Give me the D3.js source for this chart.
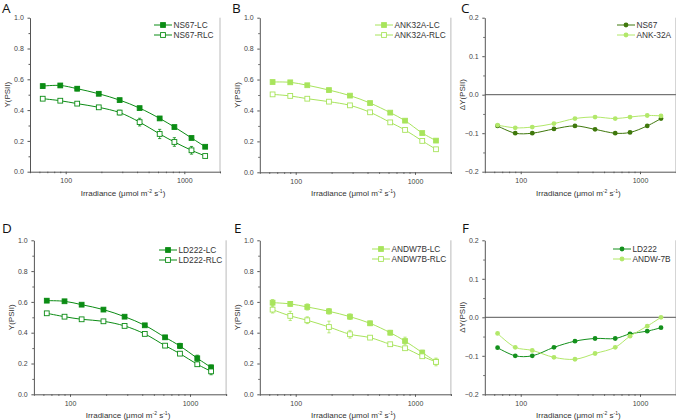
<!DOCTYPE html>
<html><head><meta charset="utf-8">
<script src="https://cdn.jsdelivr.net/npm/d3@7"></script>
<style>body{margin:0;background:#fff}svg{display:block}</style>
</head><body>
<svg id="chart" width="676" height="420"></svg>
<script>
// ---------- DATA ----------
const irradiance = [64, 90, 125, 190, 285, 420, 620, 825, 1150, 1500];
const xTicks = [100, 1000];

const ns67LC      = [0.556, 0.560, 0.539, 0.506, 0.465, 0.413, 0.346, 0.290, 0.219, 0.162];
const ns67LCErr   = [0.012, 0.010, 0.014, 0.012, 0.008, 0.008, 0.008, 0.008, 0.008, 0.008];
const ns67RLC     = [0.474, 0.461, 0.442, 0.418, 0.384, 0.322, 0.245, 0.193, 0.139, 0.102];
const ns67RLCErr  = [0.006, 0.006, 0.006, 0.006, 0.015, 0.025, 0.030, 0.028, 0.025, 0.010];

const ank32aLC     = [0.584, 0.582, 0.563, 0.532, 0.496, 0.448, 0.386, 0.334, 0.254, 0.205];
const ank32aLCErr  = [0.005, 0.005, 0.005, 0.005, 0.005, 0.005, 0.005, 0.005, 0.005, 0.005];
const ank32aRLC    = [0.504, 0.494, 0.476, 0.457, 0.433, 0.388, 0.323, 0.274, 0.203, 0.149];
const ank32aRLCErr = [0.005, 0.005, 0.005, 0.005, 0.005, 0.005, 0.005, 0.005, 0.005, 0.005];

const dNS67   = [-0.081, -0.100, -0.100, -0.089, -0.081, -0.090, -0.100, -0.098, -0.081, -0.062];
const dANK32A = [-0.079, -0.086, -0.084, -0.075, -0.062, -0.058, -0.062, -0.058, -0.054, -0.055];

const ld222LC     = [0.608, 0.604, 0.582, 0.550, 0.504, 0.448, 0.370, 0.314, 0.234, 0.175];
const ld222LCErr  = [0.012, 0.008, 0.008, 0.008, 0.008, 0.008, 0.012, 0.017, 0.020, 0.015];
const ld222RLC    = [0.526, 0.504, 0.487, 0.474, 0.444, 0.392, 0.316, 0.264, 0.195, 0.149];
const ld222RLCErr = [0.006, 0.006, 0.006, 0.006, 0.006, 0.006, 0.010, 0.012, 0.010, 0.022];

const andw7bLC     = [0.595, 0.587, 0.567, 0.539, 0.504, 0.461, 0.400, 0.346, 0.271, 0.212];
const andw7bLCErr  = [0.020, 0.015, 0.020, 0.018, 0.018, 0.015, 0.015, 0.025, 0.015, 0.015];
const andw7bRLC    = [0.550, 0.509, 0.481, 0.437, 0.390, 0.368, 0.325, 0.299, 0.247, 0.210];
const andw7bRLCErr = [0.022, 0.030, 0.022, 0.038, 0.025, 0.010, 0.010, 0.010, 0.010, 0.025];

const dLD222  = [-0.079, -0.100, -0.100, -0.078, -0.062, -0.055, -0.055, -0.043, -0.036, -0.027];
const dANDW7B = [-0.042, -0.078, -0.086, -0.104, -0.109, -0.094, -0.078, -0.049, -0.023, 0.000];

const yTicksY = [0, 0.2, 0.4, 0.6, 0.8, 1.0];
const yTicksD = [-0.2, -0.1, 0, 0.1, 0.2];

// ---------- STYLE ----------
const DARK = "#0b8c14";
const OLIVE = "#3f780c";
const LIGHT = "#b2e86a";
const LIGHT2 = "#a8e45c";
const FONT = "'Liberation Sans', Arial, sans-serif";

const svg = d3.select("#chart");

const panels = [
  {letter:"A", lx:2, ly:13, x0:30, x1:220, y0:171.7, y1:17.7, type:"y",
   series:[{name:"NS67-LC", v:ns67LC, e:ns67LCErr, c:DARK, open:false},
           {name:"NS67-RLC", v:ns67RLC, e:ns67RLCErr, c:DARK, open:true}], legX:154, legY:25},
  {letter:"B", lx:232, ly:13, x0:259.8, x1:450.9, y0:172.3, y1:17.7, type:"y",
   series:[{name:"ANK32A-LC", v:ank32aLC, e:ank32aLCErr, c:LIGHT2, open:false},
           {name:"ANK32A-RLC", v:ank32aRLC, e:ank32aRLCErr, c:LIGHT2, open:true}], legX:375, legY:25},
  {letter:"C", lx:461, ly:13, x0:484.8, x1:675.9, y0:171.7, y1:17.7, type:"d",
   series:[{name:"NS67", v:dNS67, c:OLIVE},
           {name:"ANK-32A", v:dANK32A, c:LIGHT}], legX:617, legY:25},
  {letter:"D", lx:2, ly:233, x0:33.9, x1:226.1, y0:394.3, y1:240.3, type:"y",
   series:[{name:"LD222-LC", v:ld222LC, e:ld222LCErr, c:DARK, open:false},
           {name:"LD222-RLC", v:ld222RLC, e:ld222RLCErr, c:DARK, open:true}], legX:159, legY:250},
  {letter:"E", lx:234, ly:233, x0:259.8, x1:450.9, y0:394.3, y1:240.3, type:"y",
   series:[{name:"ANDW7B-LC", v:andw7bLC, e:andw7bLCErr, c:LIGHT2, open:false},
           {name:"ANDW7B-RLC", v:andw7bRLC, e:andw7bRLCErr, c:LIGHT2, open:true}], legX:372, legY:249},
  {letter:"F", lx:462, ly:233, x0:484.8, x1:675.9, y0:394.3, y1:240.3, type:"d",
   series:[{name:"LD222", v:dLD222, c:"#13901c"},
           {name:"ANDW-7B", v:dANDW7B, c:LIGHT}], legX:613, legY:249}
];

const minorX = [];
[10, 100, 1000].forEach(d => { for (let k = 1; k < 10; k++) { const v = d * k; if (v >= 50 && v <= 2000 && k !== 1) minorX.push(v); } });
minorX.push(2000);

panels.forEach(p => {
  const g = svg.append("g");
  const x = d3.scaleLog().domain([50, 2000]).range([p.x0, p.x1]);
  const y = p.type === "y" ? d3.scaleLinear().domain([0, 1]).range([p.y0, p.y1])
                           : d3.scaleLinear().domain([-0.2, 0.2]).range([p.y0, p.y1]);
  const yt = p.type === "y" ? yTicksY : yTicksD;
  const yMinor = p.type === "y" ? [0.1, 0.3, 0.5, 0.7, 0.9] : [-0.15, -0.05, 0.05, 0.15];

  // right frame
  g.append("line").attr("x1", p.x1).attr("x2", p.x1).attr("y1", p.y1).attr("y2", p.y0)
    .attr("stroke", "#bbb").attr("stroke-width", 1);

  // x axis
  const xa = g.append("g").attr("transform", `translate(0,${p.y0})`)
    .call(d3.axisBottom(x).tickValues(xTicks).tickFormat(d3.format("d")).tickSize(2.5).tickSizeOuter(0));
  xa.select(".domain").attr("stroke", "#555");
  xa.selectAll(".tick line").attr("stroke", "#555");
  xa.selectAll("text").attr("font-family", FONT).attr("font-size", 7).attr("fill", "#444").attr("dy", "0.9em");
  const xm = g.append("g").attr("transform", `translate(0,${p.y0})`)
    .call(d3.axisBottom(x).tickValues(minorX).tickFormat("").tickSize(1.5).tickSizeOuter(0));
  xm.select(".domain").remove();
  xm.selectAll(".tick line").attr("stroke", "#555");

  // y axis
  const ya = g.append("g").attr("transform", `translate(${p.x0},0)`)
    .call(d3.axisLeft(y).tickValues(yt).tickFormat(d3.format(".1f")).tickSize(2.5).tickSizeOuter(0));
  ya.select(".domain").attr("stroke", "#555");
  ya.selectAll(".tick line").attr("stroke", "#555");
  ya.selectAll("text").attr("font-family", FONT).attr("font-size", 7).attr("fill", "#444").attr("dx", "-0.1em");
  const ym = g.append("g").attr("transform", `translate(${p.x0},0)`)
    .call(d3.axisLeft(y).tickValues(yMinor).tickFormat("").tickSize(1.5).tickSizeOuter(0));
  ym.select(".domain").remove();
  ym.selectAll(".tick line").attr("stroke", "#555");

  if (p.type === "d") {
    g.append("line").attr("x1", p.x0).attr("x2", p.x1).attr("y1", y(0)).attr("y2", y(0))
      .attr("stroke", "#555").attr("stroke-width", 1);
  }

  // axis titles
  const xt = g.append("text").attr("x", (p.x0 + p.x1) / 2 - 2).attr("y", p.y0 + 24)
    .attr("text-anchor", "middle").attr("font-family", FONT).attr("font-size", 8).attr("fill", "#333");
  xt.append("tspan").text("Irradiance (\u03bcmol m");
  xt.append("tspan").text("-2").attr("font-size", 5).attr("dy", -3);
  xt.append("tspan").text(" s").attr("dy", 3);
  xt.append("tspan").text("-1").attr("font-size", 5).attr("dy", -3);
  xt.append("tspan").text(")").attr("dy", 3);

  g.append("text").attr("transform", `translate(${p.x0 - 20},${(p.y0 + p.y1) / 2}) rotate(-90)`)
    .attr("text-anchor", "middle").attr("font-family", FONT).attr("font-size", 8).attr("fill", "#333")
    .text(p.type === "y" ? "Y(PSII)" : "\u0394Y(PSII)");

  // panel letter
  g.append("text").attr("x", p.lx).attr("y", p.ly).attr("font-family", "'Open Sans', sans-serif")
    .attr("font-size", 13.5).attr("fill", "#111").text(p.letter);

  const line = d3.line().x((d, i) => x(irradiance[i])).y(d => y(d)).curve(d3.curveCatmullRom.alpha(0.5));

  p.series.forEach((s, si) => {
    g.append("path").attr("d", line(s.v)).attr("fill", "none").attr("stroke", s.c).attr("stroke-width", 1);
    if (s.e) {
      s.v.forEach((v, i) => {
        const cx = x(irradiance[i]);
        const yA = y(v + s.e[i]), yB = y(v - s.e[i]);
        g.append("line").attr("x1", cx).attr("x2", cx).attr("y1", yA).attr("y2", yB).attr("stroke", s.c).attr("stroke-width", 0.8);
        [yA, yB].forEach(yy => g.append("line").attr("x1", cx - 1.6).attr("x2", cx + 1.6).attr("y1", yy).attr("y2", yy).attr("stroke", s.c).attr("stroke-width", 0.8));
      });
    }
    const drawMarker = (cx, cy) => {
      if (p.type === "y") {
        g.append("rect").attr("x", cx - 2.4).attr("y", cy - 2.4).attr("width", 4.8).attr("height", 4.8)
          .attr("fill", s.open ? "#fff" : s.c).attr("stroke", s.c).attr("stroke-width", 0.9);
      } else {
        g.append("circle").attr("cx", cx).attr("cy", cy).attr("r", 2.4).attr("fill", s.c);
      }
    };
    s.v.forEach((v, i) => drawMarker(x(irradiance[i]), y(v)));

    // legend
    const ly = p.legY + si * 10;
    g.append("line").attr("x1", p.legX).attr("x2", p.legX + 18).attr("y1", ly).attr("y2", ly).attr("stroke", s.c).attr("stroke-width", 1);
    drawMarker(p.legX + 9, ly);
    g.append("text").attr("x", p.legX + 19.5).attr("y", ly).attr("dy", "0.35em")
      .attr("font-family", FONT).attr("font-size", 8.3).attr("fill", "#333").text(s.name);
  });
});
</script>
</body></html>
